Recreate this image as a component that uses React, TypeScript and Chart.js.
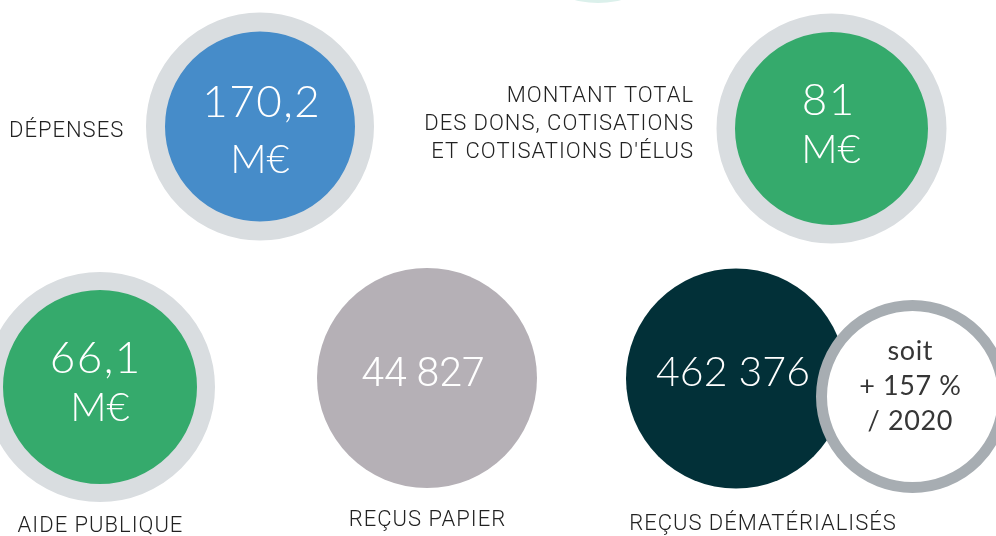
import React, { useEffect, useRef } from "react";
import { Chart, registerables } from "chart.js";

Chart.register(...registerables);

// ---- data ----
const CATEGORIES = [
  "DÉPENSES",
  "MONTANT TOTAL DES DONS, COTISATIONS ET COTISATIONS D'ÉLUS",
  "AIDE PUBLIQUE",
  "REÇUS PAPIER",
  "REÇUS DÉMATÉRIALISÉS",
];
const LABEL_LINES = [
  ["DÉPENSES"],
  ["MONTANT TOTAL", "DES DONS, COTISATIONS", "ET COTISATIONS D'ÉLUS"],
  ["AIDE PUBLIQUE"],
  ["REÇUS PAPIER"],
  ["REÇUS DÉMATÉRIALISÉS"],
];
const VALUES = [170.2, 81, 66.1, 44827, 462376];
const UNITS = ["M€", "M€", "M€", "", ""];
const GROWTH_PCT = 157;
const BASE_YEAR = 2020;

// ---- layout (pixel-like units on hidden linear scales) ----
const W = 996;
const H = 536;
// circles: center, outer radius, inner radius
const CIRCLES = [
  { cx: 598, cy: -89, R: 92, r: 92, fill: "#DBF0EB", ring: "#DBF0EB" }, // decorative, cut off at top
  { cx: 260, cy: 126.5, R: 114, r: 95, fill: "#468CC9", ring: "#D9DDE0" },
  { cx: 831.5, cy: 128.5, R: 115, r: 96.5, fill: "#35AA6C", ring: "#D9DDE0" },
  { cx: 100, cy: 387, R: 115, r: 97, fill: "#35AA6C", ring: "#D9DDE0" },
  { cx: 427, cy: 378, R: 110, r: 110, fill: "#B5B0B6", ring: "#B5B0B6" },
  { cx: 736, cy: 378.5, R: 110, r: 110, fill: "#023038", ring: "#023038" },
  { cx: 912.5, cy: 396.5, R: 96.5, r: 85.5, fill: "#FFFFFF", ring: "#A7ADB2" },
];
// value text positions relative to circle centres (circle index = category index + 1)
const VALUE_POS = [
  { dx: 1, vy: -9.5, ux: 0, uy: 46.5 },
  { dx: -3.5, vy: -13.5, ux: -0.5, uy: 34.5 },
  { dx: -5, vy: -14, ux: 0, uy: 34 },
  { dx: -4, vy: 8, ux: 0, uy: 0 },
  { dx: -3, vy: 7.5, ux: 0, uy: 0 },
];
const LABEL_POS = [
  { x: 9, y: 137, align: "left" },
  { x: 693, y: 102, align: "right" },
  { x: 100, y: 532, align: "center" },
  { x: 427, y: 526, align: "center" },
  { x: 762.5, y: 530, align: "center" },
];
const GROWTH_POS = { dx: -2.5, ys: [-36.5, -1.5, 33.5] };

const NUM_FONT = '"Lato", "Open Sans", sans-serif';
const LABEL_FONT = '"Roboto", "Noto Sans", sans-serif';

function fmt(v: number): string {
  if (Number.isInteger(v)) {
    return String(v).replace(/\B(?=(\d{3})+(?!\d))/g, " ");
  }
  return String(v).replace(".", ",");
}

function drawSpaced(ctx: any, text: string, x: number, y: number, spacing: number) {
  ctx.letterSpacing = `${spacing}px`;
  const align = ctx.textAlign;
  let ox = 0;
  if (align === "center") ox = spacing / 2;
  else if (align === "right" || align === "end") ox = spacing;
  ctx.fillText(text, x + ox, y);
  ctx.letterSpacing = "0px";
}

const textPlugin = {
  id: "infoText",
  afterDatasetsDraw(chart: any) {
    const ctx = chart.ctx as any;
    const xs = chart.scales.x;
    const ys = chart.scales.y;
    const meta = chart.getDatasetMeta(0);
    ctx.save();
    ctx.textBaseline = "alphabetic";

    // values inside circles
    VALUES.forEach((v, i) => {
      const el = meta.data[i + 1];
      const p = VALUE_POS[i];
      const hasUnit = UNITS[i] !== "";
      ctx.fillStyle = "#FFFFFF";
      ctx.textAlign = "center";
      const isPaper = i === 3;
      ctx.font = isPaper
        ? `300 41px ${LABEL_FONT}`
        : `300 ${hasUnit ? 44 : 41}px ${NUM_FONT}`;
      drawSpaced(ctx, fmt(v), el.x + p.dx, el.y + p.vy, hasUnit ? 1.5 : 0);
      if (hasUnit) {
        ctx.font = `300 40px ${NUM_FONT}`;
        ctx.fillText(UNITS[i], el.x + p.ux, el.y + p.uy);
      }
    });

    // growth circle
    const g = meta.data[6];
    ctx.fillStyle = "#363636";
    ctx.font = `400 27px ${NUM_FONT}`;
    ctx.textAlign = "center";
    const lines = ["soit", `+ ${GROWTH_PCT} %`, `/ ${BASE_YEAR}`];
    lines.forEach((t, k) => drawSpaced(ctx, t, g.x + GROWTH_POS.dx, g.y + GROWTH_POS.ys[k], 0.6));

    // category labels
    ctx.fillStyle = "#222222";
    ctx.font = `300 22px ${LABEL_FONT}`;
    LABEL_LINES.forEach((ls, i) => {
      const lp = LABEL_POS[i];
      ctx.textAlign = lp.align as CanvasTextAlign;
      ls.forEach((t, k) => {
        drawSpaced(ctx, t, xs.getPixelForValue(lp.x), ys.getPixelForValue(lp.y + k * 28), 1);
      });
    });
    ctx.restore();
  },
};

export default function App() {
  const ref = useRef<HTMLCanvasElement | null>(null);
  useEffect(() => {
    document.body.style.margin = "0";
    const canvas = ref.current;
    if (!canvas) return;
    const chart = new Chart(canvas, {
      type: "bubble",
      data: {
        labels: ["", ...CATEGORIES, "growth"],
        datasets: [
          {
            label: "infographic",
            data: CIRCLES.map((c) => ({ x: c.cx, y: c.cy, r: (c.R + c.r) / 2 })),
            backgroundColor: CIRCLES.map((c) => c.fill),
            borderColor: CIRCLES.map((c) => c.ring),
            borderWidth: CIRCLES.map((c) => c.R - c.r),
            hoverBorderWidth: CIRCLES.map((c) => c.R - c.r),
            clip: false,
          } as any,
        ],
      },
      options: {
        responsive: false,
        animation: false,
        devicePixelRatio: 1,
        events: [],
        layout: { padding: 0, autoPadding: false },
        plugins: { legend: { display: false }, tooltip: { enabled: false } },
        scales: {
          x: { type: "linear", min: 0, max: W, display: false },
          y: { type: "linear", min: 0, max: H, reverse: true, display: false },
        },
      },
      plugins: [textPlugin],
    });
    return () => chart.destroy();
  }, []);
  return (
    <div style={{ width: W, height: H, overflow: "hidden", background: "#fff" }}>
      <canvas ref={ref} width={W} height={H} style={{ display: "block" }} />
    </div>
  );
}
